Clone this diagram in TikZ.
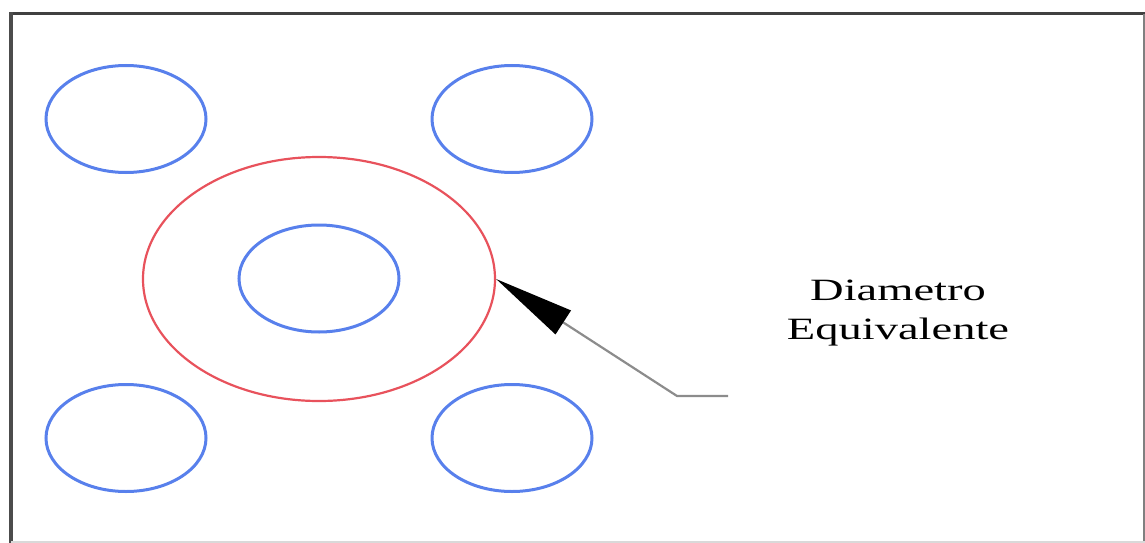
\documentclass[tikz,border=0pt]{standalone}
\usepackage{fontspec}
\newfontfamily\labelfont[FakeStretch=1.5]{Liberation Serif}
\usetikzlibrary{arrows.meta,shapes.geometric}
\definecolor{holeblue}{RGB}{88,128,236}
\definecolor{ringred}{RGB}{232,82,92}

\begin{document}
\begin{tikzpicture}[x=1pt,y=-1pt,>=Stealth,
  hole/.style={draw=holeblue,line width=3pt,ellipse,inner sep=0pt,minimum width=160pt,minimum height=107pt},
  ring/.style={draw=ringred,line width=2.2pt,ellipse,inner sep=0pt,minimum width=352pt,minimum height=244pt}]
\useasboundingbox (0,0) rectangle (1145,543);
% frame
\draw[line width=3pt,black!75] (10,14) -- (1145,14);
\draw[line width=4pt,black!70] (11,12.5) -- (11,543);
\draw[line width=2pt,black!50] (1144,14) -- (1144,543);
\draw[line width=2pt,black!15] (11,542) -- (1145,542);
% tubes
\node[hole] (tl) at (126,119) {};
\node[hole] (tr) at (512,119) {};
\node[hole] (bl) at (126,438) {};
\node[hole] (br) at (512,438) {};
\node[hole] (mid) at (319,278.5) {};
\node[ring] (equiv) at (319,279) {};
% label and pointer
\node[font=\labelfont\fontsize{31}{39}\selectfont,align=center] (label) at (898,313) {Diametro\\Equivalente};
\coordinate (tail) at (728,396);
\coordinate (elbow) at (677,396);
\draw[black!45,line width=2.2pt,-{Triangle[length=80pt,width=28pt,black]}] (tail) -- (elbow) -- (equiv.east);
\end{tikzpicture}
\end{document}
